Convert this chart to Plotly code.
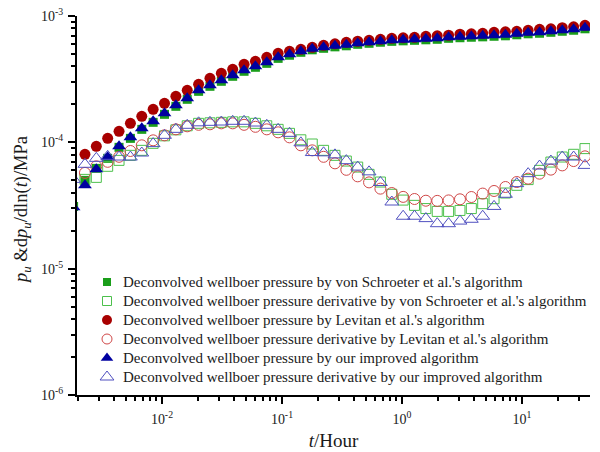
import plotly.graph_objects as go

# Elapsed time (hours); first sample only exists for our improved algorithm
t_hours = [0.001835, 0.002282, 0.002838, 0.003529, 0.004389, 0.005459, 0.006789, 0.008443,
           0.01050, 0.01306, 0.01624, 0.02020, 0.02512, 0.03124, 0.03885, 0.04832,
           0.06009, 0.07473, 0.09294, 0.1156, 0.1437, 0.1788, 0.2223, 0.2765,
           0.3439, 0.4277, 0.5319, 0.6615, 0.8227, 1.023, 1.272, 1.582,
           1.968, 2.447, 3.044, 3.785, 4.708, 5.855, 7.282, 9.056,
           11.26, 14.01, 17.42, 21.67, 26.95, 33.51]

# Deconvolved wellbore pressure (MPa) - von Schroeter et al.
vs_p = [3.10e-5, 5.00e-5, 6.22e-5, 7.47e-5, 9.13e-5, 1.075e-4, 1.267e-4, 1.440e-4,
        1.666e-4, 1.928e-4, 2.191e-4, 2.533e-4, 2.776e-4, 3.041e-4, 3.331e-4, 3.649e-4,
        3.926e-4, 4.22e-4, 4.62e-4, 4.89e-4, 5.16e-4, 5.40e-4, 5.55e-4, 5.70e-4,
        5.81e-4, 5.97e-4, 6.08e-4, 6.20e-4, 6.30e-4, 6.36e-4, 6.42e-4, 6.48e-4,
        6.54e-4, 6.66e-4, 6.73e-4, 6.79e-4, 6.84e-4, 6.91e-4, 6.97e-4, 7.10e-4,
        7.23e-4, 7.30e-4, 7.43e-4, 7.57e-4, 7.71e-4, 7.92e-4]

# Pressure derivative - von Schroeter et al.
vs_dp = [None, 5.09e-5, 5.28e-5, 6.46e-5, 7.20e-5, 7.89e-5, 8.64e-5, 9.82e-5,
         1.126e-4, 1.256e-4, 1.352e-4, 1.414e-4, 1.427e-4, 1.440e-4, 1.453e-4, 1.453e-4,
         1.414e-4, 1.352e-4, 1.267e-4, 1.178e-4, 1.047e-4, 9.70e-5, 8.64e-5, 7.89e-5,
         7.11e-5, 6.37e-5, 5.58e-5, 4.85e-5, 3.88e-5, 3.49e-5, 3.17e-5, 2.99e-5,
         2.84e-5, 2.84e-5, 2.89e-5, 2.99e-5, 3.27e-5, 3.58e-5, 3.97e-5, 4.57e-5,
         5.07e-5, 6.00e-5, 6.98e-5, 7.65e-5, 8.04e-5, 8.92e-5]

# Deconvolved wellbore pressure - Levitan et al.
lev_p = [None, 8.04e-5, 9.30e-5, 1.076e-4, 1.222e-4, 1.414e-4, 1.607e-4, 1.825e-4,
         2.036e-4, 2.313e-4, 2.580e-4, 2.879e-4, 3.212e-4, 3.518e-4, 3.785e-4, 4.146e-4,
         4.379e-4, 4.710e-4, 5.066e-4, 5.254e-4, 5.450e-4, 5.652e-4, 5.862e-4, 6.025e-4,
         6.19e-4, 6.31e-4, 6.42e-4, 6.54e-4, 6.66e-4, 6.72e-4, 6.78e-4, 6.91e-4,
         6.97e-4, 7.04e-4, 7.17e-4, 7.23e-4, 7.30e-4, 7.43e-4, 7.50e-4, 7.57e-4,
         7.71e-4, 7.85e-4, 7.92e-4, 8.07e-4, 8.21e-4, 8.44e-4]

# Pressure derivative - Levitan et al.
lev_dp = [None, 5.73e-5, 6.46e-5, 7.01e-5, 7.68e-5, 8.54e-5, 9.47e-5, 1.037e-4,
          1.136e-4, 1.267e-4, 1.339e-4, 1.376e-4, 1.389e-4, 1.414e-4, 1.414e-4, 1.376e-4,
          1.327e-4, 1.267e-4, 1.200e-4, 1.095e-4, 9.47e-5, 8.64e-5, 7.68e-5, 6.82e-5,
          6.06e-5, 5.38e-5, 4.82e-5, 4.30e-5, 3.97e-5, 3.70e-5, 3.56e-5, 3.45e-5,
          3.44e-5, 3.47e-5, 3.54e-5, 3.69e-5, 3.93e-5, 4.12e-5, 4.43e-5, 4.85e-5,
          5.16e-5, 5.65e-5, 6.08e-5, 6.57e-5, 7.11e-5, 7.75e-5]

# Deconvolved wellbore pressure - improved algorithm
our_p = [3.06e-5, 4.57e-5, 6.11e-5, 7.61e-5, 9.30e-5, 1.095e-4, 1.290e-4, 1.467e-4,
         1.697e-4, 1.963e-4, 2.231e-4, 2.580e-4, 2.827e-4, 3.097e-4, 3.392e-4, 3.716e-4,
         3.998e-4, 4.30e-4, 4.71e-4, 4.975e-4, 5.254e-4, 5.50e-4, 5.652e-4, 5.81e-4,
         5.92e-4, 6.08e-4, 6.19e-4, 6.31e-4, 6.42e-4, 6.48e-4, 6.54e-4, 6.60e-4,
         6.66e-4, 6.78e-4, 6.85e-4, 6.91e-4, 6.97e-4, 7.04e-4, 7.10e-4, 7.23e-4,
         7.36e-4, 7.43e-4, 7.57e-4, 7.71e-4, 7.85e-4, 8.07e-4]

# Pressure derivative - improved algorithm
our_dp = [5.09e-5, 6.70e-5, 7.47e-5, 7.75e-5, 7.65e-5, 7.65e-5, 8.23e-5, 9.77e-5,
          1.136e-4, 1.267e-4, 1.364e-4, 1.427e-4, 1.440e-4, 1.448e-4, 1.467e-4, 1.467e-4,
          1.422e-4, 1.364e-4, 1.267e-4, 1.178e-4, 9.91e-5, 8.30e-5, 8.26e-5, 7.96e-5,
          7.16e-5, 6.37e-5, 5.84e-5, 4.81e-5, 3.37e-5, 2.60e-5, 2.60e-5, 2.49e-5,
          2.27e-5, 2.27e-5, 2.38e-5, 2.46e-5, 2.60e-5, 3.11e-5, 3.88e-5, 4.71e-5,
          5.65e-5, 6.49e-5, 7.11e-5, 7.65e-5, 7.65e-5, 6.57e-5]

series_names = [
    "Deconvolved wellboer pressure by von Schroeter et al.'s algorithm",
    "Deconvolved wellboer pressure derivative by von Schroeter et al.'s algorithm",
    "Deconvolved wellboer pressure by Levitan et al.'s algorithm",
    "Deconvolved wellboer pressure derivative by Levitan et al.'s algorithm",
    "Deconvolved wellboer pressure by our improved algorithm",
    "Deconvolved wellboer pressure derivative by our improved algorithm",
]

x_tick_vals = [0.01, 0.1, 1, 10]
x_tick_text = ["10<sup>-2</sup>", "10<sup>-1</sup>", "10<sup>0</sup>", "10<sup>1</sup>"]
y_tick_vals = [1e-6, 1e-5, 1e-4, 1e-3]
y_tick_text = ["10<sup>-6</sup>", "10<sup>-5</sup>", "10<sup>-4</sup>", "10<sup>-3</sup>"]

# marker styles for each series (plot size, legend key size)
styles = [
    dict(symbol="square", color="#1a9e1a", size=9, key=8, line=0),
    dict(symbol="square-open", color="#4cc04c", size=10, key=9, line=1),
    dict(symbol="circle", color="#a80000", size=11, key=10, line=0),
    dict(symbol="circle-open", color="#d04848", size=11, key=10, line=1),
    dict(symbol="triangle-up", color="#0000a0", size=12, key=11, line=0),
    dict(symbol="triangle-up-open", color="#5050c0", size=12, key=12, line=1),
]
values = [vs_p, vs_dp, lev_p, lev_dp, our_p, our_dp]

fig = go.Figure()
for name, vals, st in zip(series_names, values, styles):
    fig.add_trace(go.Scatter(
        x=t_hours, y=vals, mode="markers", name=name, showlegend=False,
        marker=dict(symbol=st["symbol"], size=st["size"], color=st["color"],
                    line=dict(width=st["line"], color=st["color"])),
        cliponaxis=True))

# Legend block drawn on an overlay axis measured in pixels of the plot area
L, R, T, B = 77, 590, 16, 395
key_x, text_x = 107, 121
row_y0, row_dy = 282, 19
for i, (name, st) in enumerate(zip(series_names, styles)):
    ry = row_y0 + i * row_dy
    fig.add_trace(go.Scatter(
        x=[key_x], y=[ry], xaxis="x2", yaxis="y2", mode="markers",
        showlegend=False, hoverinfo="skip",
        marker=dict(symbol=st["symbol"], size=st["key"], color=st["color"],
                    line=dict(width=st["line"], color=st["color"]))))
    fig.add_annotation(x=text_x, y=ry, xref="x2", yref="y2", text=name,
                       showarrow=False, xanchor="left", yanchor="middle",
                       font=dict(family="Liberation Serif", size=15, color="#1a1a1a"))

serif = "Liberation Serif, Times New Roman, serif"
minor_x = [m * 10 ** e for e in range(-3, 2) for m in range(2, 10)]
minor_y = [m * 10 ** e for e in range(-6, -3) for m in range(2, 10)]

fig.update_layout(
    width=600, height=452,
    margin=dict(l=L, r=600 - R, t=T, b=452 - B, autoexpand=False),
    paper_bgcolor="white", plot_bgcolor="white",
    font=dict(family=serif, color="#111111"),
    showlegend=False,
    xaxis=dict(type="log", range=[-2.708, 1.567], automargin=False,
               tickvals=x_tick_vals, ticktext=x_tick_text,
               ticks="outside", ticklen=7, tickwidth=1.5, tickcolor="black",
               ticklabelstandoff=3,
               showline=True, linecolor="black", linewidth=2,
               showgrid=False, zeroline=False,
               tickfont=dict(family=serif, size=14, color="#1a1a1a"),
               minor=dict(tickvals=minor_x, ticks="outside", ticklen=4,
                          tickwidth=1.5, tickcolor="black", showgrid=False),
               title=dict(text="<i>t</i>/Hour", font=dict(family=serif, size=19, color="#1a1a1a"),
                          standoff=8)),
    yaxis=dict(type="log", range=[-6, -3], automargin=False,
               tickvals=y_tick_vals, ticktext=y_tick_text,
               ticks="outside", ticklen=7, tickwidth=1.5, tickcolor="black",
               ticklabelstandoff=2,
               showline=True, linecolor="black", linewidth=2,
               showgrid=False, zeroline=False,
               tickfont=dict(family=serif, size=14, color="#1a1a1a"),
               minor=dict(tickvals=minor_y, ticks="outside", ticklen=4,
                          tickwidth=1.5, tickcolor="black", showgrid=False)),
    xaxis2=dict(overlaying="x", range=[L, R], visible=False, fixedrange=True),
    yaxis2=dict(overlaying="y", range=[B, T], visible=False, fixedrange=True),
)

# y-axis title, placed left of the tick labels
fig.add_annotation(
    x=(22 - L) / (R - L), y=(B - 210) / (B - T), xref="paper", yref="paper",
    showarrow=False, textangle=-90, xanchor="center", yanchor="middle",
    text="<i>p</i><sub><i>u</i></sub> &amp;d<i>p</i><sub><i>u</i></sub>/dln(<i>t</i>)/MPa",
    font=dict(family=serif, size=18.5, color="#1a1a1a"))

fig.write_html("out.html")
